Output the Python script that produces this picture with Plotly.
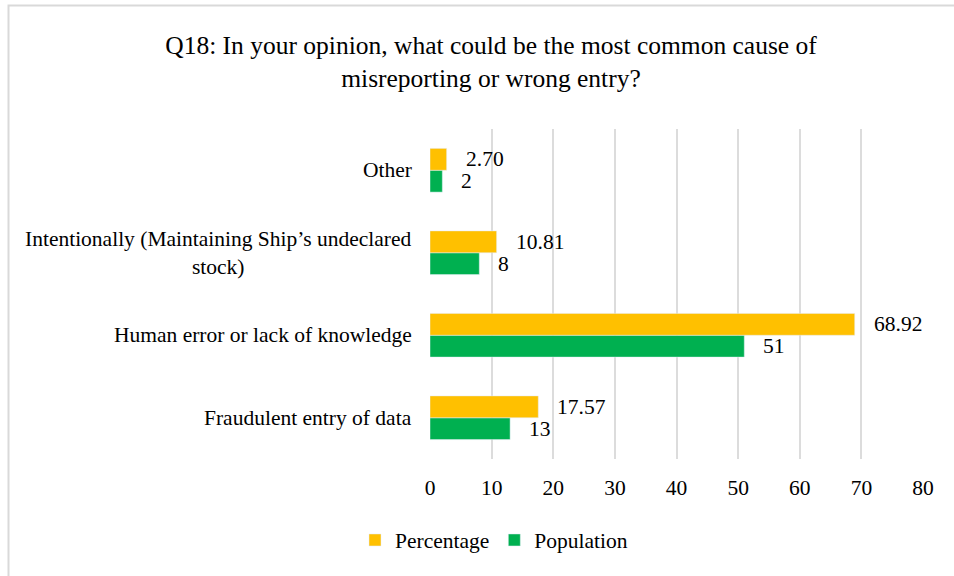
import plotly.graph_objects as go

categories = ["Fraudulent entry of data", "Human error or lack of knowledge",
              "Intentionally (Maintaining Ship’s undeclared<br>stock)", "Other"]
percentage = [17.57, 68.92, 10.81, 2.70]
population = [13, 51, 8, 2]
pct_text = ["17.57", "68.92", "10.81", "2.70"]
pop_text = ["13", "51", "8", "2"]
x_ticks = [0, 10, 20, 30, 40, 50, 60, 70, 80]

W, H = 954, 576
ML, MR, MT, MB = 430, 31, 129, 117
FONT = "Liberation Serif, Times New Roman, serif"
FS = 21.5
BARGAP = 0.47

fig = go.Figure()
fig.add_trace(go.Bar(y=list(range(len(categories))), x=population, orientation="h",
                     name="Population", marker=dict(color="#00B050")))
fig.add_trace(go.Bar(y=list(range(len(categories))), x=percentage, orientation="h",
                     name="Percentage", marker=dict(color="#FFC000")))

w = (1 - BARGAP) / 2
ann = []
for i, cat in enumerate(categories):
    ann.append(dict(x=percentage[i], y=i + w / 2, xref="x", yref="y", text=pct_text[i],
                    showarrow=False, xanchor="left", yanchor="middle", xshift=17,
                    font=dict(family=FONT, size=FS, color="#000")))
    ann.append(dict(x=population[i], y=i - w / 2, xref="x", yref="y", text=pop_text[i],
                    showarrow=False, xanchor="left", yanchor="middle", xshift=17,
                    font=dict(family=FONT, size=FS, color="#000")))
    ann.append(dict(x=0, y=i, xref="paper", yref="y", text=cat, showarrow=False,
                    xanchor="right", yanchor="middle", xshift=-16, align="center",
                    font=dict(family=FONT, size=FS, color="#000")))

pw = W - ML - MR
ph = H - MT - MB
fig.add_shape(type="rect", xref="paper", yref="paper",
              x0=(8.5 - ML) / pw, x1=1.2, y0=-0.6, y1=(H - MB - 5.5) / ph,
              line=dict(color="#d9d9d9", width=2), fillcolor="rgba(0,0,0,0)", layer="below")

fig.update_layout(
    width=W, height=H,
    margin=dict(l=ML, r=MR, t=MT, b=MB),
    paper_bgcolor="white", plot_bgcolor="white",
    barmode="group", bargap=BARGAP, bargroupgap=0,
    title=dict(text="Q18: In your opinion, what could be the most common cause of<br>misreporting or wrong entry?",
               x=491 / W, xref="container", xanchor="center", y=1 - 54 / H, yanchor="middle",
               font=dict(family=FONT, size=25.5, color="#000")),
    font=dict(family=FONT, size=FS, color="#000"),
    xaxis=dict(range=[0, 80], tickvals=x_ticks, showgrid=True, gridcolor="#dcdcdc",
               gridwidth=1.5, zeroline=False, showline=False, ticks="",
               ticklabelstandoff=13, tickfont=dict(family=FONT, size=FS, color="#000"),
               fixedrange=True),
    yaxis=dict(range=[-0.5, len(categories) - 0.5], showticklabels=False, showgrid=False,
               zeroline=False, ticks="", fixedrange=True),
    legend=dict(orientation="h", x=(494 - ML) / pw, xanchor="center",
                y=(H - MB - 540) / ph, yanchor="middle", traceorder="reversed",
                font=dict(family=FONT, size=FS, color="#000")),
    annotations=ann,
    showlegend=True,
)

fig.write_html("out.html")
